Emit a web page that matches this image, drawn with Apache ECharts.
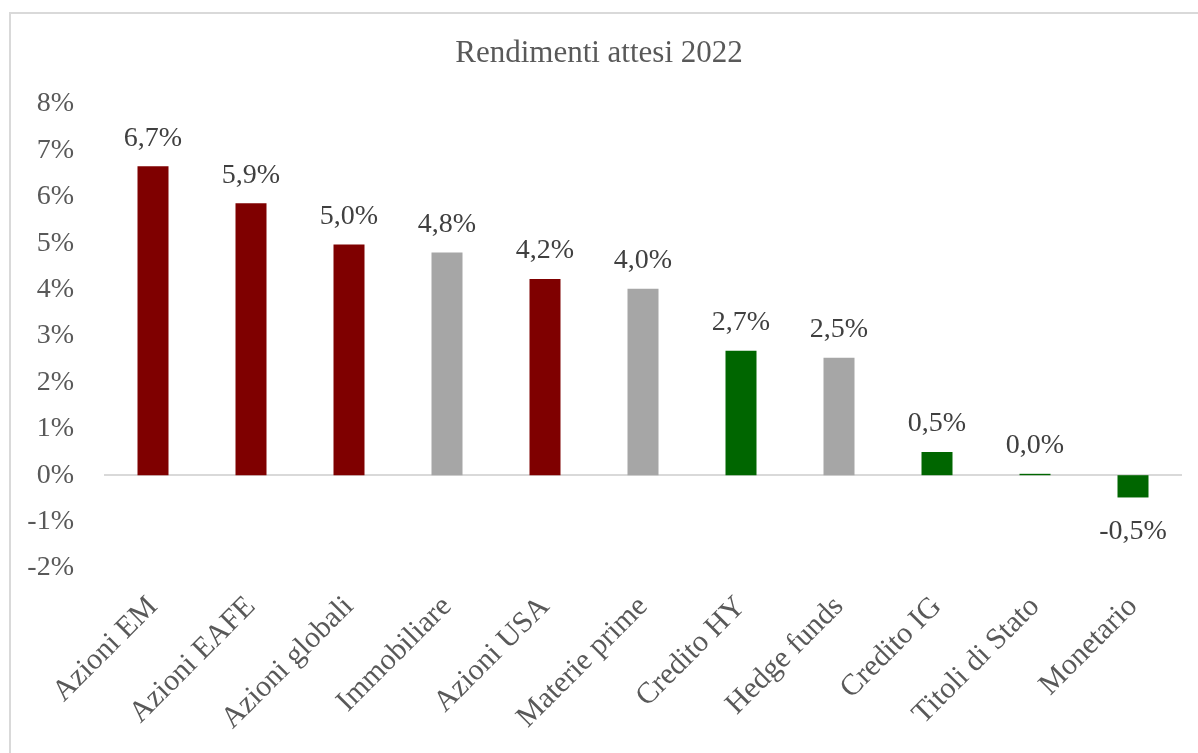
<!DOCTYPE html>
<html>
<head>
<meta charset="utf-8">
<script src="https://cdn.jsdelivr.net/npm/echarts@6/dist/echarts.min.js"></script>
<style>
html,body{margin:0;padding:0;background:#fff;}
#chart{width:1198px;height:753px;}
</style>
</head>
<body>
<div id="chart"></div>
<script>
const title = 'Rendimenti attesi 2022';
const categories = ['Azioni EM','Azioni EAFE','Azioni globali','Immobiliare','Azioni USA','Materie prime','Credito HY','Hedge funds','Credito IG','Titoli di Stato','Monetario'];
const values = [6.66, 5.86, 4.97, 4.80, 4.23, 4.02, 2.68, 2.53, 0.50, 0.03, -0.48];
const groups = ['azionario','azionario','azionario','alternativo','azionario','alternativo','obbligazionario','alternativo','obbligazionario','obbligazionario','obbligazionario'];
const yTicks = {min: -2, max: 8, interval: 1};

const groupColors = {azionario: '#7F0000', alternativo: '#A6A6A6', obbligazionario: '#006600'};
const FONT = '"Liberation Serif", "Times New Roman", serif';

const fmt = v => (Math.round(v * 10) / 10).toFixed(1).replace('.', ',') + '%';

const data = values.map((v, i) => ({
  value: v,
  itemStyle: {color: groupColors[groups[i]]},
  label: v < 0 ? {position: 'bottom', distance: 20} : {position: 'top', distance: 14}
}));

const chart = echarts.init(document.getElementById('chart'), null, {renderer: 'canvas'});
chart.setOption({
  animation: false,
  backgroundColor: '#fff',
  graphic: [{
    type: 'rect', silent: true, z: -1,
    shape: {x: 10, y: 13, width: 1300, height: 900},
    style: {fill: 'none', stroke: '#D9D9D9', lineWidth: 2}
  }],
  title: {
    text: title, left: 'center', top: 33,
    textStyle: {fontFamily: FONT, fontSize: 31, fontWeight: 'normal', color: '#595959'}
  },
  grid: {left: 104, right: 16, top: 104, bottom: 185, containLabel: false},
  xAxis: {
    type: 'category', data: categories, position: 'bottom',
    axisLine: {show: false}, axisTick: {show: false},
    axisLabel: {rotate: 45, margin: 34, interval: 0, fontFamily: FONT, fontSize: 30, color: '#595959'}
  },
  yAxis: {
    type: 'value', min: yTicks.min, max: yTicks.max, interval: yTicks.interval,
    axisLine: {show: false}, axisTick: {show: false}, splitLine: {show: false},
    axisLabel: {margin: 30, fontFamily: FONT, fontSize: 28, color: '#595959', formatter: v => v + '%'}
  },
  series: [{
    type: 'bar', data: data, barWidth: 31,
    label: {show: true, fontFamily: FONT, fontSize: 28, color: '#404040', formatter: p => fmt(p.value)},
    markLine: {
      silent: true, symbol: 'none', z: 1,
      label: {show: false},
      lineStyle: {color: '#D9D9D9', width: 2, type: 'solid'},
      data: [{yAxis: 0}]
    }
  }]
});
</script>
</body>
</html>
